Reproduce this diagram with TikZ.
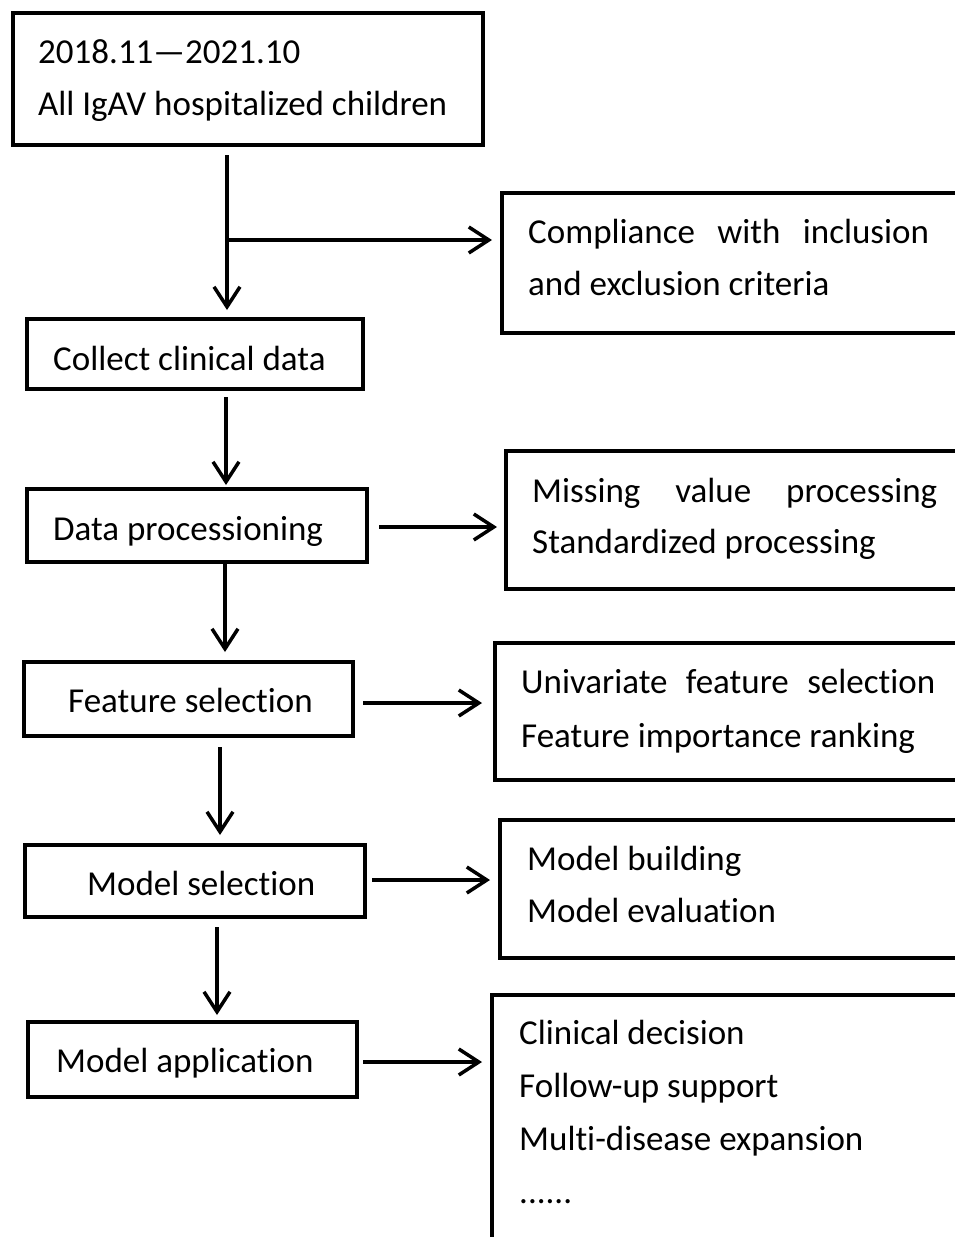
\documentclass[tikz,border=0pt]{standalone}
\usepackage{fontspec}
\setmainfont{Carlito}[Ligatures={NoCommon}]
\usetikzlibrary{arrows.meta}
\tikzset{
  box/.style={draw, line width=3.8pt, anchor=north west, inner sep=0pt, outer sep=0pt},
  txt/.style={anchor=base west, inner sep=0pt, font=\fontsize{35}{42}\selectfont},
  arr/.style={line width=3.5pt, -{Straight Barb[length=20pt,width=26pt,line width=3.5pt]}},
}
\begin{document}
\begin{tikzpicture}[x=1pt,y=-1pt]
\useasboundingbox (0,0) rectangle (955,1237);
\clip (0,0) rectangle (955,1237);
% left column boxes
\node[box, minimum width=470pt, minimum height=132pt] (b1) at (13,13) {};
\node[box, minimum width=336pt, minimum height=70pt] (b2) at (27,319) {};
\node[box, minimum width=340pt, minimum height=73pt] (b3) at (27,489) {};
\node[box, minimum width=329pt, minimum height=74pt] (b4) at (24,662) {};
\node[box, minimum width=340pt, minimum height=72pt] (b5) at (25,845) {};
\node[box, minimum width=329pt, minimum height=75pt] (b6) at (28,1022) {};
% right column boxes (run off the page)
\node[box, minimum width=478pt, minimum height=140pt] (r1) at (502,193) {};
\node[box, minimum width=474pt, minimum height=138pt] (r2) at (506,451) {};
\node[box, minimum width=485pt, minimum height=137pt] (r3) at (495,643) {};
\node[box, minimum width=480pt, minimum height=138pt] (r4) at (500,820) {};
\node[box, minimum width=488pt, minimum height=265pt] (r5) at (492,995) {};
% texts
\node[txt] (t1a) at (38,63) {2018.11—2021.10};
\node[txt] (t1b) at (38,115) {All IgAV hospitalized children};
\node[txt] (t2) at (53,370) {Collect clinical data};
\node[txt] (t3) at (53,540) {Data processioning};
\node[txt] (t4) at (68,712) {Feature selection};
\node[txt] (t5) at (87,895) {Model selection};
\node[txt] (t6) at (56,1072) {Model application};
\node[txt] (s1a) at (528,243) {\makebox[401pt][s]{Compliance with inclusion}};
\node[txt] (s1b) at (528,295) {and exclusion criteria};
\node[txt] (s2a) at (532,502) {\makebox[405pt][s]{Missing value processing}};
\node[txt] (s2b) at (532,553) {Standardized processing};
\node[txt] (s3a) at (521,693) {\makebox[414pt][s]{Univariate feature selection}};
\node[txt] (s3b) at (521,747) {Feature importance ranking};
\node[txt] (s4a) at (527,870) {Model building};
\node[txt] (s4b) at (527,922) {Model evaluation};
\node[txt] (s5a) at (519,1044) {Clinical decision};
\node[txt] (s5b) at (519,1097) {Follow-up support};
\node[txt] (s5c) at (519,1150) {Multi-disease expansion};
\node[txt] (s5d) at (519,1203) {......};
% column coordinates
\coordinate (v1) at (227,0);
\coordinate (v2) at (226,0);
\coordinate (v3) at (225,0);
\coordinate (v4) at (220,0);
\coordinate (v5) at (217,0);
\coordinate (j1) at (227,240);
% vertical arrows
\draw[arr, shorten <=10pt, shorten >=9pt] (b1.south -| v1) -- (b2.north -| v1);
\draw[arr, shorten >=10pt] (j1) -- (j1 -| r1.west);
\draw[arr, shorten <=8pt, shorten >=4pt] (b2.south -| v2) -- (b3.north -| v2);
\draw[arr, shorten <=0pt, shorten >=10pt] (b3.south -| v3) -- (b4.north -| v3);
\draw[arr, shorten <=11pt, shorten >=10pt] (b4.south -| v4) -- (b5.north -| v4);
\draw[arr, shorten <=10pt, shorten >=7pt] (b5.south -| v5) -- (b6.north -| v5);
% horizontal arrows
\coordinate (h2) at (0,527);
\coordinate (h3) at (0,703);
\coordinate (h4) at (0,880);
\coordinate (h5) at (0,1062);
\draw[arr, shorten <=12pt, shorten >=9pt] (b3.east |- h2) -- (r2.west |- h2);
\draw[arr, shorten <=10pt, shorten >=13pt] (b4.east |- h3) -- (r3.west |- h3);
\draw[arr, shorten <=7pt, shorten >=10pt] (b5.east |- h4) -- (r4.west |- h4);
\draw[arr, shorten <=6pt, shorten >=10pt] (b6.east |- h5) -- (r5.west |- h5);
\end{tikzpicture}
\end{document}
